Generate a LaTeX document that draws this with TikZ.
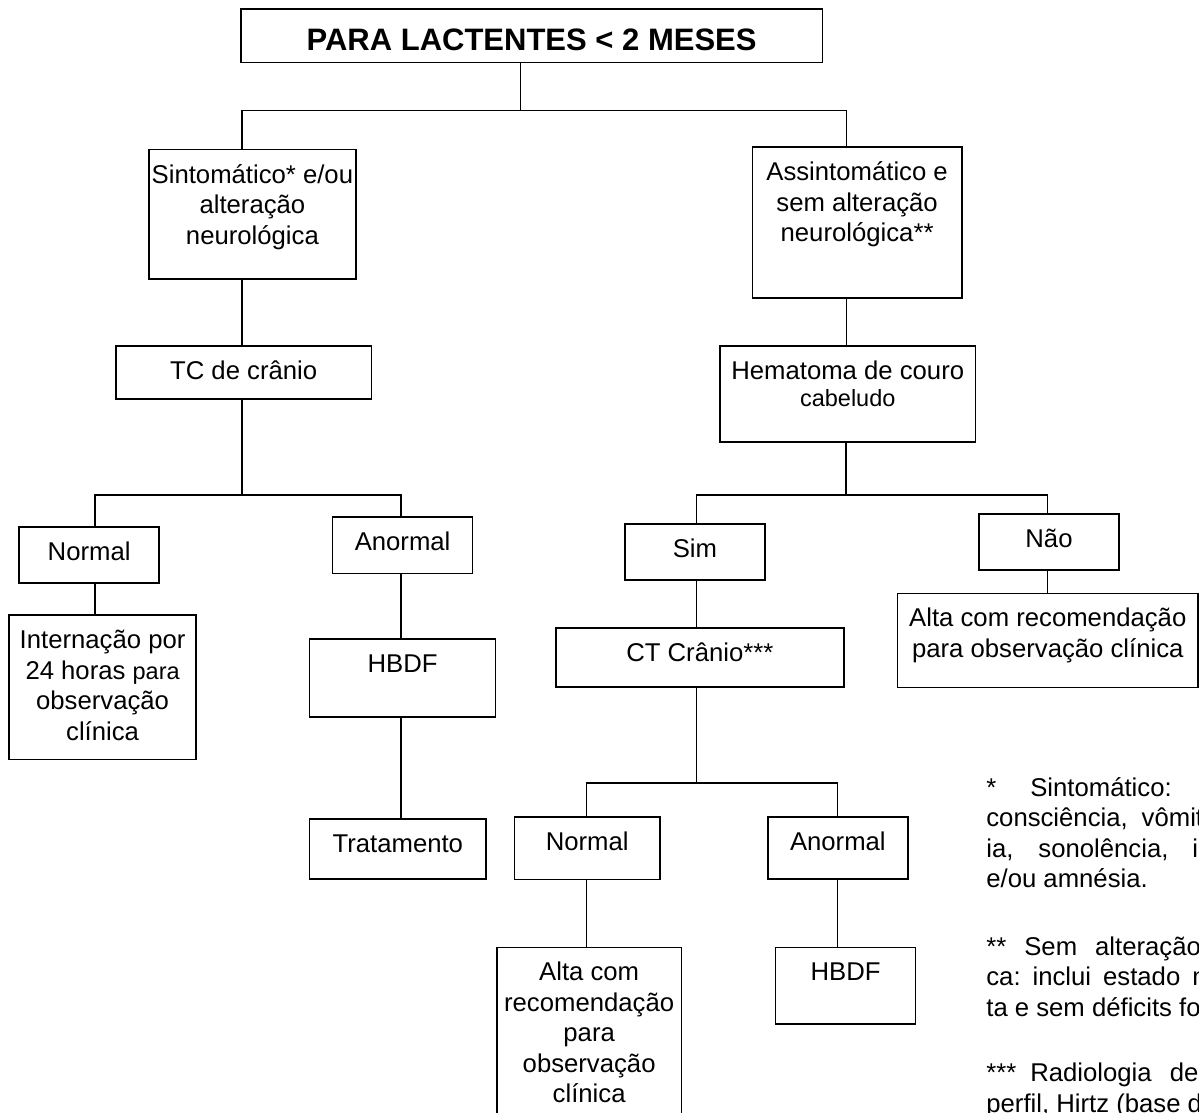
\documentclass[tikz,border=0pt]{standalone}
\usepackage{fontspec}
\setmainfont{Liberation Sans}

\tikzset{every picture/.style={line width=1.3pt}}
\tikzset{
  caixa/.style={draw, line width=1.6pt, inner sep=0pt, outer sep=0pt, anchor=north west, font=\fontsize{25.7}{30.5}\selectfont},
  nota/.style={inner sep=0pt, anchor=base west, font=\fontsize{25.7}{30.5}\selectfont}
}
\newcommand{\txtcaixa}[3]{\parbox[c][#2][t]{#1}{\centering\rule{0pt}{33.5pt}#3}}
\newcommand{\menor}{\fontsize{23.5}{27.5}\selectfont}

\begin{document}
\begin{tikzpicture}[x=1pt,y=1pt,yscale=-1,xscale=1]
        \useasboundingbox (0,0) rectangle (1199,1113);

        %Shape: Rectangle (title)
        \node[caixa] (titulo) at (241,9.3) {\parbox[c][53.4pt][t]{581.3pt}{\centering\rule{0pt}{41pt}\fontsize{31}{36}\selectfont\bfseries PARA LACTENTES < 2 MESES}};

        %Shape: Rectangle (left branch)
        \node[caixa] (sint) at (148.9,149.7) {\txtcaixa{207pt}{129pt}{Sintomático* e/ou\\alteração\\neurológica}};
        \node[caixa] (tc) at (116,345.7) {\txtcaixa{255.3pt}{53.3pt}{TC de crânio}};
        \node[caixa] (norm1) at (19.1,527) {\txtcaixa{140.1pt}{56pt}{Normal}};
        \node[caixa] (intern) at (9.2,615) {\txtcaixa{186.8pt}{144.3pt}{Internação por\\24 horas {\menor para}\\observação\\clínica}};
        \node[caixa] (anorm1) at (332.6,517) {\txtcaixa{140pt}{56.3pt}{Anormal}};
        \node[caixa] (hbdf1) at (309.6,639) {\txtcaixa{186pt}{78pt}{HBDF}};
        \node[caixa] (trat) at (309.6,819) {\txtcaixa{176.4pt}{60pt}{Tratamento}};

        %Shape: Rectangle (right branch)
        \node[caixa] (assint) at (752.4,147) {\txtcaixa{209.4pt}{150.7pt}{Assintomático e\\sem alteração\\neurológica**}};
        \node[caixa] (hem) at (720,345.7) {\txtcaixa{255.5pt}{96.3pt}{Hematoma de couro\\[-3pt]{\menor cabeludo}}};
        \node[caixa] (sim) at (624.8,523.7) {\txtcaixa{140.2pt}{56.3pt}{Sim}};
        \node[caixa] (ct) at (556,628) {\txtcaixa{287.7pt}{59pt}{CT Crânio***}};
        \node[caixa] (nao) at (979,513.7) {\txtcaixa{140pt}{56.3pt}{Não}};
        \node[caixa] (alta1) at (897.6,593.3) {\txtcaixa{300.4pt}{94pt}{Alta com recomendação\\para observação clínica}};
        \node[caixa] (norm2) at (514.6,817) {\txtcaixa{145.3pt}{62.3pt}{Normal}};
        \node[caixa] (alta2) at (497,947.3) {\txtcaixa{184.3pt}{180pt}{Alta com\\recomendação\\para\\observação\\clínica}};
        \node[caixa] (anorm2) at (768,817) {\txtcaixa{139.7pt}{62pt}{Anormal}};
        \node[caixa] (hbdf2) at (775.6,947.3) {\txtcaixa{139.9pt}{76.4pt}{HBDF}};

        %Straight Lines (junctions)
        \coordinate (j0) at (520.5,110.7);
        \coordinate (jL) at (242,110.7);
        \coordinate (jR) at (846.4,110.7);
        \coordinate (j1) at (242,495);
        \coordinate (j1L) at (95,495);
        \coordinate (j1R) at (401,495);
        \coordinate (j2) at (846,495);
        \coordinate (j2L) at (696.6,495);
        \coordinate (j2R) at (1047.5,495);
        \coordinate (j3) at (696.6,783);
        \coordinate (j3L) at (586.4,783);
        \coordinate (j3R) at (837.7,783);

        %Straight Lines
        \draw (titulo.south -| j0) -- (j0);
        \draw (sint.north -| jL) -- (jL) -- (jR) -- (assint.north -| jR);
        \draw (sint.south -| jL) -- (tc.north -| jL);
        \draw (assint.south -| jR) -- (hem.north -| jR);

        \draw (tc.south -| j1) -- (j1);
        \draw (norm1.north -| j1L) -- (j1L) -- (j1R) -- (anorm1.north -| j1R);
        \draw (norm1.south -| j1L) -- (intern.north -| j1L);
        \draw (anorm1.south -| j1R) -- (hbdf1.north -| j1R);
        \draw (hbdf1.south -| j1R) -- (trat.north -| j1R);

        \draw (hem.south -| j2) -- (j2);
        \draw (sim.north -| j2L) -- (j2L) -- (j2R) -- (nao.north -| j2R);
        \draw (sim.south -| j2L) -- (ct.north -| j2L);
        \draw (nao.south -| j2R) -- (alta1.north -| j2R);

        \draw (ct.south -| j3) -- (j3);
        \draw (norm2.north -| j3L) -- (j3L) -- (j3R) -- (anorm2.north -| j3R);
        \draw (norm2.south -| j3L) -- (alta2.north -| j3L);
        \draw (anorm2.south -| j3R) -- (hbdf2.north -| j3R);

        % Text Node (notes)
        \node[nota] (nota1) at (985.7,796) {\parbox[t]{320pt}{\raggedright *\hspace{34pt}Sintomático:\\consciência,\hspace{14pt}vômit\\ia,\hspace{25pt}sonolência,\hspace{24pt}i\\e/ou amnésia.}};
        \node[nota] (nota2) at (985.7,955) {\parbox[t]{320pt}{\raggedright **\hspace{18pt}Sem\hspace{18pt}alteração\\ca:\hspace{12pt}inclui\hspace{12pt}estado\hspace{12pt}n\\ta e sem déficits fo}};
        \node[nota] (nota3) at (985.7,1081.5) {\parbox[t]{320pt}{\raggedright ***\hspace{14pt}Radiologia\hspace{18pt}de\\perfil, Hirtz (base d}};

\end{tikzpicture}
\end{document}
